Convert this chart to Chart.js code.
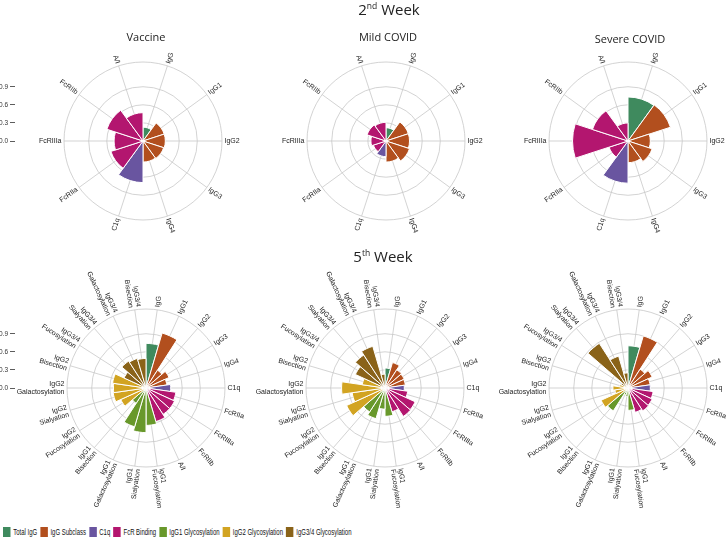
<!DOCTYPE html>
<html>
<head>
<meta charset="utf-8">
<script src="https://cdn.jsdelivr.net/npm/chart.js@4.4.0/dist/chart.umd.min.js"></script>
<style>
  body { margin: 0; width: 727px; height: 538px; background: #fff; position: relative; overflow: hidden;
         font-family: "Liberation Sans", Arial, sans-serif; color: #222; }
  canvas { position: absolute; }
  .week { position: absolute; font-family: "Open Sans", "Noto Sans", sans-serif; font-size: 15px; transform: translateX(-50%); white-space: nowrap; }
  .week sup { font-size: 8.5px; vertical-align: 6px; line-height: 0; }
  .sub { position: absolute; font-family: "Open Sans", "Noto Sans", sans-serif; font-size: 11px; transform: translateX(-50%); white-space: nowrap; }
  #legend { position: absolute; left: 3px; top: 527px; display: flex; font-size: 8.8px; white-space: nowrap; color: #111;
            transform: scaleX(0.68); transform-origin: 0 0; }
  #legend .item { display: flex; align-items: center; margin-right: 4.5px; }
  #legend .sw { width: 11px; height: 10px; margin-right: 4px; }
</style>
</head>
<body>
<canvas id="w2vac" width="270" height="270" style="left:8px;top:6px"></canvas>
<canvas id="w2mild" width="270" height="270" style="left:251px;top:6px"></canvas>
<canvas id="w2sev" width="270" height="270" style="left:493px;top:6px"></canvas>
<canvas id="w5vac" width="270" height="270" style="left:11px;top:253px"></canvas>
<canvas id="w5mild" width="270" height="270" style="left:250px;top:253px"></canvas>
<canvas id="w5sev" width="270" height="270" style="left:493px;top:253px"></canvas>
<canvas id="axisTop" width="30" height="100" style="left:0;top:52px"></canvas>
<canvas id="axisBot" width="30" height="100" style="left:0;top:299px"></canvas>

<div class="week" style="left:389px;top:-1px">2<sup>nd</sup> Week</div>
<div class="week" style="left:383px;top:246px">5<sup>th</sup> Week</div>
<div class="sub" style="left:146px;top:29px">Vaccine</div>
<div class="sub" style="left:388px;top:29px">Mild COVID</div>
<div class="sub" style="left:630px;top:31px">Severe COVID</div>
<div id="legend"></div>

<script>
const groupNames = ['Total IgG', 'IgG Subclass', 'C1q', 'FcR Binding', 'IgG1 Glycosylation', 'IgG2 Glycosylation', 'IgG3/4 Glycosylation'];
const groupColors = ['#3f8a5e', '#b24f1e', '#6955a0', '#b3166f', '#68982b', '#d2a422', '#8a6319'];

// 2nd week: 10 features
const week2Labels = [['IgG'], ['IgG1'], ['IgG2'], ['IgG3'], ['IgG4'], ['C1q'], ['FcRIIa'], ['FcRIIIa'], ['FcRIIb'], ['A/I']];
const week2Groups = [0, 1, 1, 1, 1, 2, 3, 3, 3, 3];
const week2Vaccine = [0.23, 0.37, 0.37, 0.36, 0.35, 0.69, 0.56, 0.48, 0.63, 0.47];
const week2Mild    = [0.22, 0.39, 0.39, 0.41, 0.35, 0.26, 0.22, 0.25, 0.33, 0.31];
const week2Severe  = [0.73, 0.74, 0.37, 0.42, 0.36, 0.70, 0.33, 0.92, 0.62, 0.30];

// 5th week: 22 features
const week5Labels = [['IgG'], ['IgG1'], ['IgG2'], ['IgG3'], ['IgG4'], ['C1q'], ['FcRIIa'], ['FcRIIIa'], ['FcRIIb'], ['A/I'],
  ['IgG1', 'Fucosylation'], ['IgG1', 'Sialyation'], ['IgG1', 'Galactosylation'], ['IgG1', 'Bisection'],
  ['IgG2', 'Fucosylation'], ['IgG2', 'Sialyation'], ['IgG2', 'Galactosylation'], ['IgG2', 'Bisection'],
  ['IgG3/4', 'Fucosylation'], ['IgG3/4', 'Sialyation'], ['IgG3/4', 'Galactosylation'], ['IgG3/4', 'Bisection']];
const week5Groups = [0, 1, 1, 1, 1, 2, 3, 3, 3, 3, 4, 4, 4, 4, 5, 5, 5, 5, 6, 6, 6, 6];
const week5Vaccine = [0.74, 0.95, 0.35, 0.42, 0.35, 0.41, 0.50, 0.52, 0.52, 0.58, 0.62, 0.74, 0.67, 0.30, 0.46, 0.55, 0.54, 0.56, 0.40, 0.53, 0.51, 0.49];
const week5Mild    = [0.33, 0.44, 0.36, 0.35, 0.34, 0.32, 0.38, 0.55, 0.56, 0.41, 0.47, 0.35, 0.53, 0.47, 0.70, 0.55, 0.72, 0.38, 0.54, 0.65, 0.72, 0.23];
const week5Severe  = [0.70, 0.90, 0.37, 0.44, 0.37, 0.37, 0.42, 0.44, 0.45, 0.42, 0.37, 0.14, 0.12, 0.45, 0.49, 0.22, 0.25, 0.14, 0.12, 0.88, 0.55, 0.25];

const rTicks = [0, 0.3, 0.6, 0.9];
const R_MAX = 1.31;
const GRID = '#c8c8c8';

// spokes through the middle of every wedge, and the rotated labels at the rim
const spokes = {
  id: 'spokes',
  beforeDatasetsDraw(chart) {
    const s = chart.scales.r, ctx = chart.ctx, n = chart.data.labels.length;
    ctx.save();
    ctx.strokeStyle = GRID;
    ctx.lineWidth = 0.8;
    for (let i = 0; i < n; i++) {
      const a = (i + 0.5) * 2 * Math.PI / n - Math.PI / 2;
      ctx.beginPath();
      ctx.moveTo(s.xCenter, s.yCenter);
      ctx.lineTo(s.xCenter + Math.cos(a) * s.drawingArea, s.yCenter + Math.sin(a) * s.drawingArea);
      ctx.stroke();
    }
    ctx.restore();
  },
  afterDraw(chart) {
    const s = chart.scales.r, ctx = chart.ctx, labels = chart.data.labels, n = labels.length;
    ctx.save();
    ctx.fillStyle = '#222';
    ctx.font = '7px "Liberation Sans", Arial, sans-serif';
    ctx.textBaseline = 'middle';
    for (let i = 0; i < n; i++) {
      const deg = (i + 0.5) * 360 / n;
      const a = deg * Math.PI / 180 - Math.PI / 2;
      const r0 = s.drawingArea + 2.5;
      ctx.save();
      ctx.translate(s.xCenter + Math.cos(a) * r0, s.yCenter + Math.sin(a) * r0);
      if (deg <= 180) {
        ctx.rotate(a);
        ctx.textAlign = 'left';
      } else {
        ctx.rotate(a + Math.PI);
        ctx.textAlign = 'right';
      }
      const lines = labels[i];
      lines.forEach((t, k) => ctx.fillText(t, 0, (k - (lines.length - 1) / 2) * 7.5));
      ctx.restore();
    }
    ctx.restore();
  }
};

function makePolar(id, labels, groups, values) {
  return new Chart(document.getElementById(id), {
    type: 'polarArea',
    data: {
      labels: labels,
      datasets: [{
        data: values,
        backgroundColor: groups.map(g => groupColors[g]),
        borderColor: '#fff',
        borderWidth: 1
      }]
    },
    options: {
      responsive: false,
      animation: false,
      layout: { padding: 56 },
      plugins: { legend: { display: false }, tooltip: { enabled: false } },
      scales: {
        r: {
          min: 0,
          max: R_MAX,
          afterBuildTicks: scale => { scale.ticks = rTicks.concat([R_MAX]).map(v => ({ value: v })); },
          ticks: { display: false },
          grid: { circular: true, color: GRID, lineWidth: 0.8 },
          angleLines: { display: false },
          pointLabels: { display: false }
        }
      }
    },
    plugins: [spokes]
  });
}

function makeAxis(id) {
  return new Chart(document.getElementById(id), {
    type: 'scatter',
    data: { datasets: [{ data: [] }] },
    options: {
      responsive: false,
      animation: false,
      layout: { padding: { top: 10, bottom: 11, left: 0, right: 0 } },
      plugins: { legend: { display: false }, tooltip: { enabled: false } },
      scales: {
        x: { display: false },
        y: {
          min: 0,
          max: R_MAX,
          afterBuildTicks: scale => { scale.ticks = rTicks.map(v => ({ value: v })); },
          ticks: { callback: v => v.toFixed(1), color: '#333', font: { size: 6.5, family: '"Liberation Sans", Arial' }, padding: 2 },
          grid: { drawOnChartArea: false, tickLength: 5, tickColor: '#333', tickWidth: 0.8 },
          border: { display: false }
        }
      }
    }
  });
}

makePolar('w2vac', week2Labels, week2Groups, week2Vaccine);
makePolar('w2mild', week2Labels, week2Groups, week2Mild);
makePolar('w2sev', week2Labels, week2Groups, week2Severe);
makePolar('w5vac', week5Labels, week5Groups, week5Vaccine);
makePolar('w5mild', week5Labels, week5Groups, week5Mild);
makePolar('w5sev', week5Labels, week5Groups, week5Severe);
makeAxis('axisTop');
makeAxis('axisBot');

const legend = document.getElementById('legend');
groupNames.forEach((name, i) => {
  const item = document.createElement('div');
  item.className = 'item';
  item.innerHTML = '<span class="sw" style="background:' + groupColors[i] + '"></span><span>' + name + '</span>';
  legend.appendChild(item);
});
</script>
</body>
</html>
